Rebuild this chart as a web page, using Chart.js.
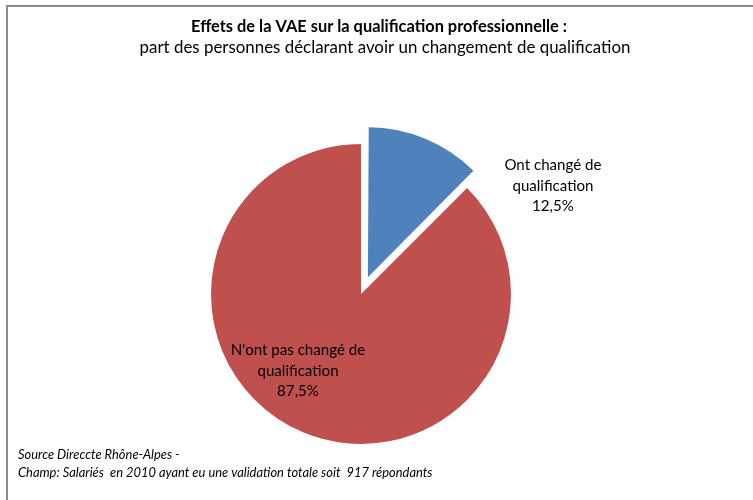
<!DOCTYPE html>
<html>
<head>
<meta charset="utf-8">
<script src="https://cdn.jsdelivr.net/npm/chart.js@4.4.1/dist/chart.umd.min.js"></script>
<style>
  html, body { margin: 0; padding: 0; background: #ffffff; }
  #wrap { position: relative; width: 753px; height: 500px; }
  canvas { display: block; }
</style>
</head>
<body>
<div id="wrap"><canvas id="c" width="753" height="500"></canvas></div>
<script>
const titleText = "Effets de la VAE sur la qualification professionnelle :";
const subtitleText = "part des personnes déclarant avoir un changement de qualification";
const categories = ["Ont changé de qualification", "N'ont pas changé de qualification"];
const labelLines = [["Ont changé de", "qualification"], ["N'ont pas changé de", "qualification"]];
const values = [12.5, 87.5];
const sourceLines = [
  "Source Direccte Rhône-Alpes -",
  "Champ: Salariés  en 2010 ayant eu une validation totale soit  917 répondants"
];

const colors = ["#4F81BD", "#C0504D"];
const FONT = "Lato, 'Noto Sans', sans-serif";

function fmtPct(v) { return v.toFixed(1).replace(".", ",") + "%"; }

// Chart.js enlarges an exploded slice's radius slightly; compensate so all slices share one radius
const equalRadiusPlugin = {
  id: "equalRadius",
  beforeDatasetsDraw(chart) {
    const meta = chart.getDatasetMeta(0);
    const base = chart.getDatasetMeta(0).controller.outerRadius;
    meta.data.forEach((arc) => {
      const off = (arc.options.offset || 0) / 4;
      const circ = arc.circumference;
      const fix = 1 - Math.sin(Math.min(Math.PI, circ || 0));
      arc.outerRadius = base - off * fix;
    });
  }
};

const decorPlugin = {
  id: "decor",
  afterDraw(chart, args, opts) {
    const ctx = chart.ctx;
    ctx.save();
    // frame
    ctx.fillStyle = "#8c8c8c";
    ctx.fillRect(6, 5, 747, 2);
    ctx.fillRect(6, 5, 2, 495);
    // titles
    ctx.fillStyle = "#000000";
    ctx.textAlign = "center";
    ctx.textBaseline = "middle";
    ctx.font = "bold 16.4px " + FONT;
    ctx.fillText(titleText, 379, 27);
    ctx.font = "16.9px " + FONT;
    ctx.fillText(subtitleText, 385, 48);
    // data labels
    const meta = chart.getDatasetMeta(0);
    const R = meta.controller.outerRadius;
    ctx.font = "15.1px " + FONT;
    meta.data.forEach((arc, i) => {
      const a = opts.anchors[i];
      const th = a.angleDeg * Math.PI / 180;
      const r = R * a.radius;
      const cx = arc.x + Math.sin(th) * r;
      const cy = arc.y - Math.cos(th) * r;
      const lines = labelLines[i].concat([fmtPct(values[i])]);
      const lh = 20.5;
      lines.forEach((t, k) => {
        ctx.fillText(t, cx, cy + (k - (lines.length - 1) / 2) * lh);
      });
    });
    // source
    ctx.textAlign = "left";
    ctx.font = "italic 12.9px " + FONT;
    ctx.fillText(sourceLines[0], 18, 455);
    ctx.fillText(sourceLines[1], 18, 473);
    ctx.restore();
  }
};

new Chart(document.getElementById("c"), {
  type: "pie",
  data: {
    labels: categories,
    datasets: [{
      data: values,
      backgroundColor: colors,
      borderWidth: 0,
      hoverBorderWidth: 0,
      offset: [72, 0],
      hoverOffset: 0
    }]
  },
  options: {
    responsive: false,
    animation: false,
    events: [],
    rotation: 0,
    layout: { padding: { left: 175, right: 206, top: 108, bottom: 20 } },
    plugins: {
      legend: { display: false },
      tooltip: { enabled: false },
      title: { display: false },
      decor: {
        anchors: [
          { angleDeg: 60.6, radius: 1.469 },
          { angleDeg: 219.3, radius: 0.663 }
        ]
      }
    }
  },
  plugins: [equalRadiusPlugin, decorPlugin]
});
</script>
</body>
</html>
